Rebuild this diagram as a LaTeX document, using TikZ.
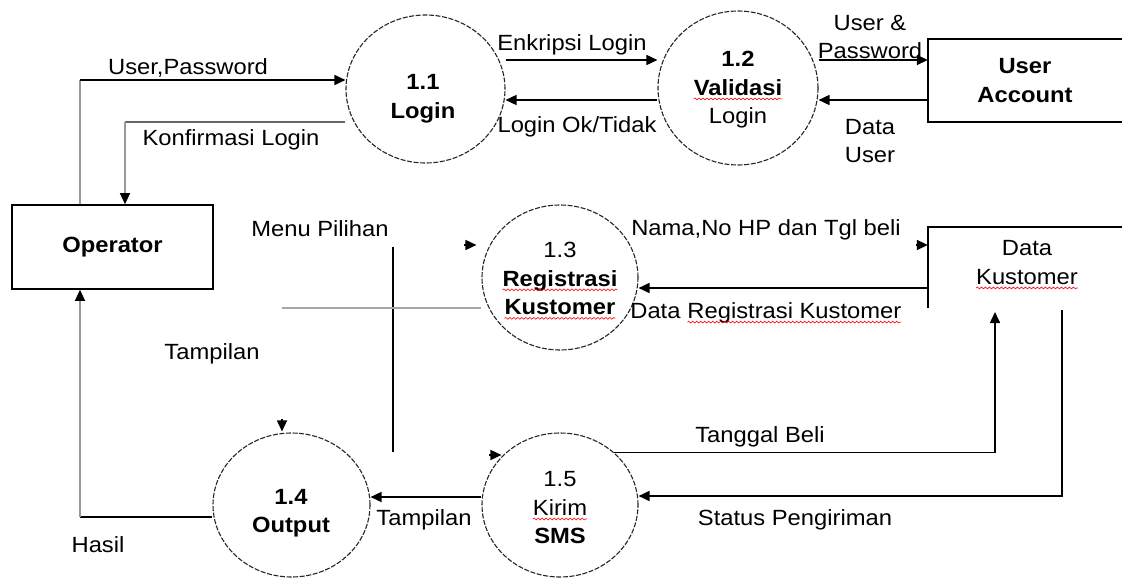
\documentclass[tikz,border=0pt]{standalone}
\usepackage{fontspec}
\setmainfont{Liberation Sans}[FakeStretch=1.08]
\usetikzlibrary{arrows.meta,shapes.geometric,decorations.pathmorphing}

% red wavy underline under a word
\newcommand\spellwave[1]{\tikz[baseline=(sw.base)]{%
  \node[inner sep=0pt,outer sep=0pt](sw){#1};%
  \draw[red,line width=0.6pt,decorate,decoration={snake,amplitude=0.9pt,segment length=4pt}]
    ([yshift=-3.5pt]sw.base west)--([yshift=-3.5pt]sw.base east);}}

\begin{document}
\begin{tikzpicture}[x=1pt,y=-1pt,
  lbl/.style={font=\fontsize{22}{28.5}\selectfont, align=center, inner sep=0pt},
  proc/.style={ellipse, draw=black!85, line width=1.1pt, dash pattern=on 5pt off 1.6pt, inner sep=0pt},
  flow/.style={line width=1.6pt, black},
  faint/.style={line width=1.2pt, black!40},
  tip/.style={-{Triangle[length=11pt,width=10pt,color=black]}},
]
\useasboundingbox (0,0) rectangle (1122,578);
\fill[white] (0,0) rectangle (1122,578);

% processes
\node[proc, minimum width=159pt, minimum height=148pt] (c11) at (425.5,89) {};
\node[proc, minimum width=160pt, minimum height=154pt] (c12) at (738,88) {};
\node[proc, minimum width=156pt, minimum height=145pt] (c13) at (560,277.5) {};
\node[proc, minimum width=157pt, minimum height=144pt] (c14) at (291.5,505) {};
\node[proc, minimum width=156pt, minimum height=144pt] (c15) at (560,505) {};

\node[lbl] (t11) at (423,99) {{\bfseries 1.1}\\{\bfseries Login}};
\node[lbl] (t12) at (738,90) {{\bfseries 1.2}\\{\bfseries\spellwave{Validasi}}\\Login};
\node[lbl] (t13) at (560,281) {1.3\\{\bfseries\spellwave{Registrasi}}\\{\bfseries\spellwave{Kustomer}}};
\node[lbl] (t14) at (291,513) {{\bfseries 1.4}\\{\bfseries Output}};
\node[lbl] (t15) at (560,508) {1.5\\\spellwave{Kirim}\\{\bfseries SMS}};

% external entities and data store
\node[lbl, draw, line width=1.6pt, minimum width=201pt, minimum height=84pt] (op) at (112.5,247) {\bfseries Operator};
\node[lbl, minimum width=194pt, minimum height=83pt] (ua) at (1025,80.5) {{\bfseries User}\\{\bfseries Account}};
\draw[flow] (ua.north east) -- (ua.north west) -- (ua.south west) -- (ua.south east);
\node[minimum width=194pt, minimum height=81pt, inner sep=0pt] (dk) at (1025,267.5) {};
\node[lbl] (dkt) at (1027,265) {Data\\\spellwave{Kustomer}};
\draw[flow] (dk.north east) -- (dk.north west) -- (dk.south west);

% User,Password
\coordinate (upc) at (80,80);
\draw[faint] (op.north -| upc) -- (upc);
\draw[flow,tip] (upc) -- (c11.west |- upc);
\node[lbl] (l1) at (188,68) {User,Password};

% Konfirmasi Login
\coordinate (kfc) at (125,122);
\draw[line width=1.4pt, black!60] (c11.west |- kfc) -- (kfc);
\draw[faint,tip] (kfc) -- (kfc |- op.north);
\node[lbl] (l2) at (231,140) {Konfirmasi Login};

% Enkripsi Login / Login Ok/Tidak
\draw[flow,tip] ([yshift=29pt]c11.east) -- ([yshift=28pt]c12.west);
\node[lbl] (l3) at (572,45) {Enkripsi Login};
\draw[flow,tip] ([yshift=-12pt]c12.west) -- ([yshift=-11pt]c11.east);
\node[lbl] (l4) at (577,127) {Login Ok/Tidak};

% User & Password / Data User
\draw[flow,tip] ([yshift=28pt]c12.east) -- ([yshift=20.5pt]ua.west);
\node[lbl] (l5) at (870,37) {User \&\\Password};
\draw[flow,tip] ([yshift=-19.5pt]ua.west) -- ([yshift=-12pt]c12.east);
\node[lbl] (l6) at (870,141) {Data\\User};

% Nama,No HP dan Tgl beli / Data Registrasi Kustomer
\draw[flow,tip] ([xshift=-12pt,yshift=22.5pt]dk.west) -- ([yshift=22.5pt]dk.west);
\node[lbl] (l7) at (766,230) {Nama,No HP dan Tgl beli};
\draw[flow,tip] ([yshift=-20.5pt]dk.west) -- ([yshift=-10.5pt]c13.east);
\node[lbl] (l8) at (766,313) {Data \spellwave{Registrasi Kustomer}};

% Menu Pilihan / Tampilan
\coordinate (mp1) at (393,247);
\coordinate (mp2) at (393,452);
\draw[flow] (mp1) -- (mp2);
\draw[flow,tip] ([xshift=-17pt,yshift=32.5pt]c13.west) -- ([xshift=-5pt,yshift=32.5pt]c13.west);
\node[lbl] (l9) at (320,229) {Menu Pilihan};
\coordinate (tp) at (282,308);
\draw[line width=1.2pt, black!35] (tp) -- (c13.west |- tp);
\node[lbl] (l10) at (212,354) {Tampilan};

% arrowheads on 1.4 and 1.5
\draw[flow,tip] ([xshift=-9.5pt,yshift=13pt]c14.north) -- ([xshift=-9.5pt,yshift=1pt]c14.north);
\draw[flow,tip] ([xshift=8pt,yshift=50pt]c15.west) -- ([xshift=20pt,yshift=50pt]c15.west);

% Tampilan (1.5 -> 1.4)
\draw[flow,tip] ([yshift=8pt]c15.west) -- ([yshift=8pt]c14.east);
\node[lbl] (l11) at (424,520) {Tampilan};

% Hasil
\coordinate (hs) at (80,517);
\draw[flow] ([yshift=-12pt]c14.west) -- (hs);
\draw[faint,tip] (hs) -- (hs |- op.south);
\node[lbl] (l12) at (98,545) {Hasil};

% Tanggal Beli / Status Pengiriman
\coordinate (tbt) at (995,312);
\draw[flow,tip] (c15.44) -| (tbt);
\node[lbl] (l13) at (760,437) {Tanggal Beli};
\coordinate (spt) at (1062,310);
\draw[flow,tip] (spt) |- ([yshift=9pt]c15.east);
\node[lbl] (l14) at (795,520) {Status Pengiriman};
\end{tikzpicture}
\end{document}
